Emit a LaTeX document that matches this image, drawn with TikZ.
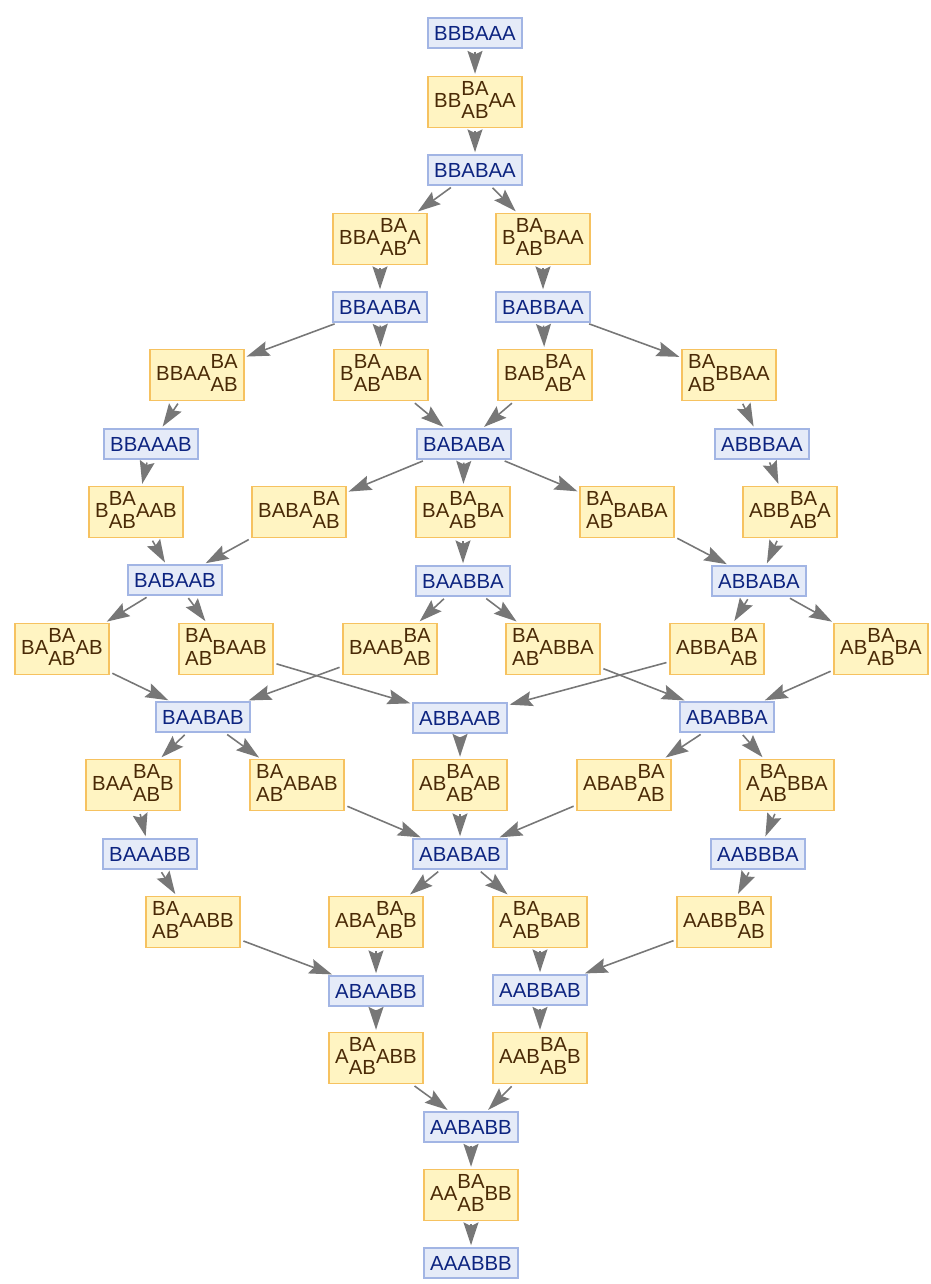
\documentclass[tikz,border=0pt]{standalone}
\usepackage{fontspec}
\setmainfont{Liberation Sans}
\usetikzlibrary{arrows.meta}

\definecolor{stfill}{HTML}{E5EBF8}
\definecolor{stline}{HTML}{A2B5E4}
\definecolor{sttext}{HTML}{0D2480}
\definecolor{evfill}{HTML}{FFF4C2}
\definecolor{evline}{HTML}{F6C260}
\definecolor{evtext}{HTML}{4A2A06}
\definecolor{flowgray}{HTML}{777777}

% the rewritten pair, BA over AB
\newcommand{\swap}{\begin{tabular}{@{}c@{}}BA\\AB\end{tabular}}
\newcommand{\ev}[2]{#1\swap#2}

\tikzset{
  state/.style={draw=stline, fill=stfill, text=sttext, line width=1.1pt,
    minimum width=1.88cm, minimum height=0.6cm, inner sep=0pt,
    font=\fontsize{11.6}{13.2}\selectfont},
  event/.style={draw=evline, fill=evfill, text=evtext, line width=1.1pt,
    minimum width=1.88cm, minimum height=1.02cm, inner sep=0pt,
    font=\fontsize{11.6}{13.2}\selectfont},
  flow/.style={-{Stealth[length=13pt, width=8.5pt, inset=2pt]},
    draw=flowgray, fill=flowgray, line width=0.9pt,
    shorten <=1.5pt, shorten >=1pt}
}

\begin{document}
\begin{tikzpicture}[x=0.02cm, y=-0.02cm]
 \useasboundingbox (0,0) rectangle (930,1284);

 % states
 \node [state] (BBBAAA) at (475,33)  {BBBAAA};
 \node [state] (BBABAA) at (475,170) {BBABAA};
 \node [state] (BBAABA) at (380,307) {BBAABA};
 \node [state] (BABBAA) at (543,307) {BABBAA};
 \node [state] (BBAAAB) at (151,444) {BBAAAB};
 \node [state] (BABABA) at (464,444) {BABABA};
 \node [state] (ABBBAA) at (762,444) {ABBBAA};
 \node [state] (BABAAB) at (175,580) {BABAAB};
 \node [state] (BAABBA) at (463,581) {BAABBA};
 \node [state] (ABBABA) at (759,581) {ABBABA};
 \node [state] (BAABAB) at (203,717) {BAABAB};
 \node [state] (ABBAAB) at (460,718) {ABBAAB};
 \node [state] (ABABBA) at (727,717) {ABABBA};
 \node [state] (BAAABB) at (150,854) {BAAABB};
 \node [state] (ABABAB) at (460,854) {ABABAB};
 \node [state] (AABBBA) at (758,854) {AABBBA};
 \node [state] (ABAABB) at (376,991) {ABAABB};
 \node [state] (AABBAB) at (540,990) {AABBAB};
 \node [state] (AABABB) at (471,1127) {AABABB};
 \node [state] (AAABBB) at (471,1263) {AAABBB};

 % events
 \node [event] (BBxAA) at (475,102) {\ev{BB}{AA}};
 \node [event] (BBAxA) at (380,239) {\ev{BBA}{A}};
 \node [event] (BxBAA) at (543,239) {\ev{B}{BAA}};
 \node [event] (BBAAx) at (197,375) {\ev{BBAA}{}};
 \node [event] (BxABA) at (381,375) {\ev{B}{ABA}};
 \node [event] (BABxA) at (545,375) {\ev{BAB}{A}};
 \node [event] (xBBAA) at (729,375) {\ev{}{BBAA}};
 \node [event] (BxAAB) at (136,512) {\ev{B}{AAB}};
 \node [event] (BABAx) at (299,512) {\ev{BABA}{}};
 \node [event] (BAxBA) at (463,512) {\ev{BA}{BA}};
 \node [event] (xBABA) at (627,512) {\ev{}{BABA}};
 \node [event] (ABBxA) at (790,512) {\ev{ABB}{A}};
 \node [event] (BAxAB) at (62,649)  {\ev{BA}{AB}};
 \node [event] (xBAAB) at (226,649) {\ev{}{BAAB}};
 \node [event] (BAABx) at (390,649) {\ev{BAAB}{}};
 \node [event] (xABBA) at (553,649) {\ev{}{ABBA}};
 \node [event] (ABBAx) at (717,649) {\ev{ABBA}{}};
 \node [event] (ABxBA) at (881,649) {\ev{AB}{BA}};
 \node [event] (BAAxB) at (133,785) {\ev{BAA}{B}};
 \node [event] (xABAB) at (297,785) {\ev{}{ABAB}};
 \node [event] (ABxAB) at (460,785) {\ev{AB}{AB}};
 \node [event] (ABABx) at (624,785) {\ev{ABAB}{}};
 \node [event] (AxBBA) at (787,785) {\ev{A}{BBA}};
 \node [event] (xAABB) at (193,922) {\ev{}{AABB}};
 \node [event] (ABAxB) at (376,922) {\ev{ABA}{B}};
 \node [event] (AxBAB) at (540,922) {\ev{A}{BAB}};
 \node [event] (AABBx) at (724,922) {\ev{AABB}{}};
 \node [event] (AxABB) at (376,1058) {\ev{A}{ABB}};
 \node [event] (AABxB) at (540,1058) {\ev{AAB}{B}};
 \node [event] (AAxBB) at (471,1195) {\ev{AA}{BB}};

 % state -> event -> state
 \draw [flow] (BBBAAA) edge (BBxAA) (BBxAA) edge (BBABAA);
 \draw [flow] (BBABAA) edge (BBAxA) (BBAxA) edge (BBAABA);
 \draw [flow] (BBABAA) edge (BxBAA) (BxBAA) edge (BABBAA);
 \draw [flow] (BBAABA) edge (BBAAx) (BBAAx) edge (BBAAAB);
 \draw [flow] (BBAABA) edge (BxABA) (BxABA) edge (BABABA);
 \draw [flow] (BABBAA) edge (BABxA) (BABxA) edge (BABABA);
 \draw [flow] (BABBAA) edge (xBBAA) (xBBAA) edge (ABBBAA);
 \draw [flow] (BBAAAB) edge (BxAAB) (BxAAB) edge (BABAAB);
 \draw [flow] (BABABA) edge (BABAx) (BABAx) edge (BABAAB);
 \draw [flow] (BABABA) edge (BAxBA) (BAxBA) edge (BAABBA);
 \draw [flow] (BABABA) edge (xBABA) (xBABA) edge (ABBABA);
 \draw [flow] (ABBBAA) edge (ABBxA) (ABBxA) edge (ABBABA);
 \draw [flow] (BABAAB) edge (BAxAB) (BAxAB) edge (BAABAB);
 \draw [flow] (BABAAB) edge (xBAAB) (xBAAB) edge (ABBAAB);
 \draw [flow] (BAABBA) edge (BAABx) (BAABx) edge (BAABAB);
 \draw [flow] (BAABBA) edge (xABBA) (xABBA) edge (ABABBA);
 \draw [flow] (ABBABA) edge (ABBAx) (ABBAx) edge (ABBAAB);
 \draw [flow] (ABBABA) edge (ABxBA) (ABxBA) edge (ABABBA);
 \draw [flow] (BAABAB) edge (BAAxB) (BAAxB) edge (BAAABB);
 \draw [flow] (BAABAB) edge (xABAB) (xABAB) edge (ABABAB);
 \draw [flow] (ABBAAB) edge (ABxAB) (ABxAB) edge (ABABAB);
 \draw [flow] (ABABBA) edge (ABABx) (ABABx) edge (ABABAB);
 \draw [flow] (ABABBA) edge (AxBBA) (AxBBA) edge (AABBBA);
 \draw [flow] (BAAABB) edge (xAABB) (xAABB) edge (ABAABB);
 \draw [flow] (ABABAB) edge (ABAxB) (ABAxB) edge (ABAABB);
 \draw [flow] (ABABAB) edge (AxBAB) (AxBAB) edge (AABBAB);
 \draw [flow] (AABBBA) edge (AABBx) (AABBx) edge (AABBAB);
 \draw [flow] (ABAABB) edge (AxABB) (AxABB) edge (AABABB);
 \draw [flow] (AABBAB) edge (AABxB) (AABxB) edge (AABABB);
 \draw [flow] (AABABB) edge (AAxBB) (AAxBB) edge (AAABBB);

\end{tikzpicture}
\end{document}
